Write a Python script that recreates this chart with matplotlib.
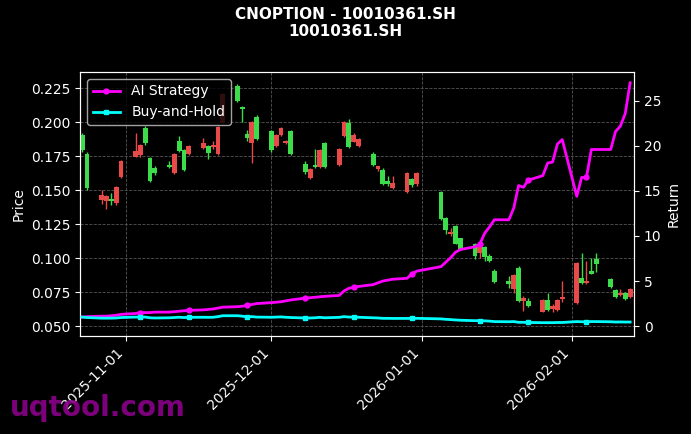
import matplotlib
matplotlib.use("Agg")
import matplotlib.pyplot as plt
import matplotlib.dates as mdates
import pandas as pd
import numpy as np

dates = ["2025-10-23","2025-10-24",
"2025-10-27","2025-10-28","2025-10-29","2025-10-30","2025-10-31",
"2025-11-03","2025-11-04","2025-11-05","2025-11-06","2025-11-07",
"2025-11-10","2025-11-11","2025-11-12","2025-11-13","2025-11-14",
"2025-11-17","2025-11-18","2025-11-19","2025-11-20","2025-11-21",
"2025-11-24","2025-11-25","2025-11-26","2025-11-27","2025-11-28",
"2025-12-01","2025-12-02","2025-12-03","2025-12-04","2025-12-05",
"2025-12-08","2025-12-09","2025-12-10","2025-12-11","2025-12-12",
"2025-12-15","2025-12-16","2025-12-17","2025-12-18","2025-12-19",
"2025-12-22","2025-12-23","2025-12-24","2025-12-25","2025-12-26",
"2025-12-29","2025-12-30","2025-12-31",
"2026-01-05","2026-01-06","2026-01-07","2026-01-08","2026-01-09",
"2026-01-12","2026-01-13","2026-01-14","2026-01-15","2026-01-16",
"2026-01-19","2026-01-20","2026-01-21","2026-01-22","2026-01-23",
"2026-01-26","2026-01-27","2026-01-28","2026-01-29","2026-01-30",
"2026-02-02","2026-02-03","2026-02-04","2026-02-05","2026-02-06",
"2026-02-09","2026-02-10","2026-02-11","2026-02-12","2026-02-13"]

opens = [.190,.176, .143,.142,.143,.141,.160, .175,.176,.195,.173,.166,
.168,.163,.186,.179,.177, .181,.182,.182,.177,.200, .226,.211,.191,.185,.203,
.193,.183,.191,.185,.193, .169,.159,.168,.167,.184, .169,.190,.199,.186,.183,
.176,.166,.164,.156,.152, .149,.158,.155, .148,.129,.118,.123,.114,
.110,.104,.108,.101,.090, .083,.078,.092,.069,.068, .061,.069,.063,.062,.070,
.067,.085,.082,.090,.099, .084,.076,.073,.074,.072]
closes = [.180,.152, .146,.145,.142,.152,.171, .178,.183,.185,.157,.163,
.167,.176,.179,.165,.182, .184,.178,.183,.196,.220, .216,.210,.189,.200,.188,
.180,.190,.195,.186,.177, .164,.165,.167,.179,.167, .180,.200,.182,.190,.187,
.169,.167,.155,.155,.155, .162,.154,.162, .129,.121,.119,.111,.107,
.102,.108,.101,.098,.083, .081,.087,.069,.070,.065, .069,.062,.064,.069,.071,
.096,.082,.083,.089,.096, .079,.072,.074,.070,.077]
highs = [.192,.178, .150,.146,.148,.153,.172, .192,.184,.197,.174,.168,
.171,.177,.190,.180,.183, .188,.183,.186,.197,.221, .228,.212,.194,.201,.205,
.194,.191,.196,.187,.194, .171,.166,.180,.180,.185, .181,.201,.202,.192,.188,
.178,.168,.166,.160,.160, .163,.159,.163, .149,.130,.122,.124,.115,
.111,.112,.109,.103,.092, .087,.088,.094,.072,.071, .070,.074,.066,.070,.083,
.097,.104,.098,.100,.104, .085,.077,.077,.075,.078]
lows = [.178,.150, .140,.136,.139,.139,.159, .174,.174,.183,.156,.161,
.166,.162,.178,.164,.176, .180,.173,.180,.176,.199, .215,.200,.186,.170,.187,
.178,.182,.190,.184,.176, .162,.158,.166,.166,.166, .168,.189,.181,.185,.182,
.168,.164,.154,.153,.151, .148,.152,.153, .128,.118,.116,.110,.106,
.099,.100,.098,.097,.082, .078,.074,.068,.061,.064, .060,.061,.060,.061,.068,
.066,.081,.081,.088,.090, .078,.071,.072,.069,.071]

ai_strategy = [1.0,1.05, 1.1,1.1,1.15,1.2,1.3, 1.4,1.5,1.5,1.5,1.55,
1.55,1.6,1.65,1.7,1.75, 1.8,1.85,1.9,2.0,2.1, 2.15,2.2,2.3,2.4,2.5,
2.6,2.65,2.7,2.8,2.9, 3.1,3.15,3.2,3.25,3.3, 3.4,3.9,4.2,4.3,4.4,
4.6,4.8,5.0,5.1,5.2, 5.3,5.8,6.1, 6.6,7.1,7.6,8.2,8.5,
8.8,9.1,10.3,11.0,11.8, 11.8,13.1,15.6,15.4,16.2, 16.7,18.1,18.2,20.2,20.7,
14.4,16.5,16.5,19.6,19.6, 19.6,21.6,22.2,23.6,27.0]
buy_hold = [1.0,0.95, 0.88,0.88,0.88,0.9,0.95, 1.0,1.0,1.0,0.92,0.9,
0.92,0.95,0.98,0.95,0.97, 0.98,0.97,0.98,1.05,1.15, 1.15,1.1,1.02,1.05,1.0,
0.98,1.0,1.02,0.98,0.95, 0.9,0.9,0.92,0.97,0.92, 0.97,1.05,1.0,1.0,0.98,
0.92,0.9,0.86,0.86,0.85, 0.85,0.85,0.86, 0.8,0.75,0.72,0.68,0.65,
0.6,0.6,0.58,0.55,0.5, 0.48,0.5,0.42,0.42,0.4, 0.38,0.38,0.38,0.4,0.4,
0.5,0.48,0.48,0.5,0.5, 0.48,0.45,0.46,0.45,0.45]

title = "CNOPTION - 10010361.SH\n10010361.SH"

x = mdates.date2num(pd.to_datetime(dates))
o = np.array(opens); c = np.array(closes)
UP = "#e84a4a"; DOWN = "#3ddc4a"
cols = [UP if cc >= oo else DOWN for oo, cc in zip(o, c)]

fig = plt.figure(figsize=(6.91, 4.34), dpi=100, facecolor="black")
ax = fig.add_axes([80/691, 1-336/434, (634-80)/691, (336-72)/434], facecolor="black")
ax.vlines(x, lows, highs, colors=cols, linewidth=1, zorder=2)
ax.bar(x, np.abs(c-o)+0.0008, bottom=np.minimum(o, c)-0.0004, width=1.0,
       color=cols, zorder=3)
ax.set_ylim(0.0427, 0.2368)
ax.set_yticks(np.arange(0.05, 0.2251, 0.025))
ax.set_ylabel("Price", color="white")
ax.grid(True, color="#555555", linestyle="--", linewidth=0.6)
ax.set_xlim(x[0]-0.45, x[-1]+0.8)
ax.xaxis.set_major_locator(mdates.MonthLocator())
ax.xaxis.set_major_formatter(mdates.DateFormatter("%Y-%m-%d"))
plt.setp(ax.get_xticklabels(), rotation=45, ha="right")

ax2 = ax.twinx()
ax2.plot(x, ai_strategy, color="#ff00ff", lw=2, marker="o", ms=3.5, markevery=(8, 8), label="AI Strategy", zorder=4)
ax2.plot(x, buy_hold, color="#00ffff", lw=2, marker="s", ms=3.5, markevery=(8, 8), label="Buy-and-Hold", zorder=4)
ax2.set_ylim(-1.1, 28.2)
ax2.set_yticks([0, 5, 10, 15, 20, 25])
ax2.set_ylabel("Return", color="white")

for a in (ax, ax2):
    a.tick_params(colors="white", labelsize=10)
    for s in a.spines.values():
        s.set_color("white")

leg = ax2.legend(loc="upper left", facecolor="black", edgecolor="#cccccc", fontsize=10)
for t in leg.get_texts():
    t.set_color("white")

fig.suptitle(title, color="white", fontsize=11, fontweight="bold", y=0.985)
fig.text(10/691, 1-408/434, "uqtool.com", color="#8b008b", fontsize=20, fontweight="bold", alpha=0.9, va="center")
fig.savefig("out.png", dpi=100, facecolor="black")
